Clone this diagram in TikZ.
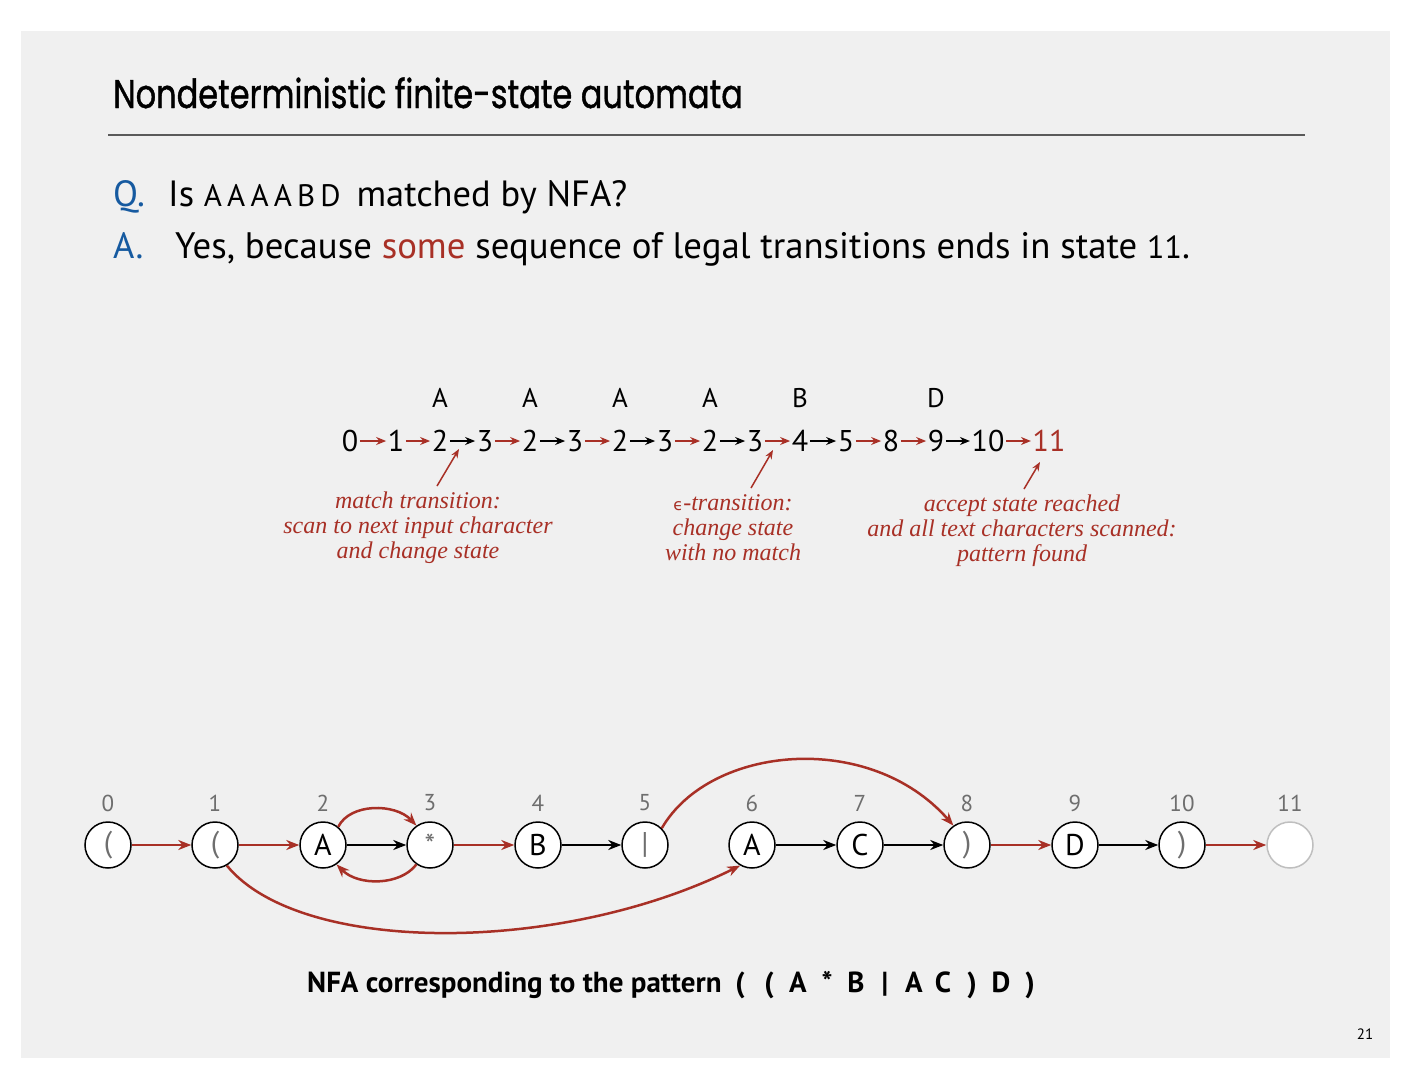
\documentclass[tikz,border=0pt]{standalone}
\usepackage{fontspec}
\setmainfont{PT Sans}
\newfontfamily\titlefont{Poppins}[FakeBold=1.2]
\newfontfamily\itfont{Liberation Serif}
\usetikzlibrary{arrows.meta}
\definecolor{bg}{RGB}{240,240,240}
\definecolor{myred}{RGB}{168,48,38}
\definecolor{myblue}{RGB}{22,90,160}
\definecolor{mygray}{RGB}{110,110,110}
\definecolor{rulegray}{RGB}{90,90,90}
\newcommand{\pc}[1]{\makebox[29pt]{#1}}
\begin{document}
\begin{tikzpicture}[x=1pt,y=-1pt,
  seqnum/.style={inner sep=1.5pt,font=\fontsize{30}{30}\selectfont},
  seqlet/.style={inner sep=0pt,font=\fontsize{27}{27}\selectfont},
  seqr/.style={draw=myred,line width=2pt,-{Stealth[length=10pt,width=8pt]}},
  seqb/.style={draw=black,line width=2pt,-{Stealth[length=10pt,width=8pt]}},
  ann/.style={text=myred,align=center,font=\itfont\itshape\fontsize{24}{25}\selectfont},
  pointer/.style={draw=myred,line width=1.5pt,-{Stealth[length=9pt,width=7pt]}},
  state/.style={circle,draw=black,line width=1.5pt,fill=white,minimum size=46pt,inner sep=0pt,font=\fontsize{30}{30}\selectfont},
  stlabel/.style={text=mygray,font=\fontsize{23}{23}\selectfont},
  nr/.style={draw=myred,line width=2.5pt,-{Stealth[length=13pt,width=10pt]}},
  nb/.style={draw=black,line width=2.5pt,-{Stealth[length=13pt,width=10pt]}}
]
\useasboundingbox (0,0) rectangle (1411,1090);
\fill[white] (0,0) rectangle (1411,1090);
\fill[bg] (21,31) rectangle (1390,1058);

% title
\node[anchor=base west,inner sep=0pt] (title) at (113,108) {\titlefont\fontsize{40}{40}\selectfont\scalebox{0.8}[1]{Nondeterministic finite-state automata}};
\coordinate (r1) at (108,135);
\coordinate (r2) at (1305,135);
\draw[rulegray,line width=2pt] (r1) -- (r2);

% Q and A
\node[anchor=base west,inner sep=0pt,text=myblue,font=\fontsize{36.5}{36.5}\selectfont] (q) at (113,206) {Q.};
\node[anchor=base west,inner sep=0pt,font=\fontsize{36.5}{36.5}\selectfont] (qt) at (168,206) {Is {\fontsize{31}{31}\selectfont A\,A\,A\,A\,B\,D} \,matched by NFA?};
\node[anchor=base west,inner sep=0pt,text=myblue,font=\fontsize{36.5}{36.5}\selectfont] (a) at (113,258) {A.};
\node[anchor=base west,inner sep=0pt,font=\fontsize{36.8}{36.8}\selectfont] (at) at (175,258) {Yes, because \textcolor{myred}{some} sequence of legal transitions ends in state {\fontsize{32}{32}\selectfont 11}.};

% sequence
\node[seqnum] (s0) at (350,441) {0};
\node[seqnum] (s1) at (396,441) {1};
\node[seqnum] (s2) at (440,441) {2};
\node[seqnum] (s3) at (485,441) {3};
\node[seqnum] (s4) at (530,441) {2};
\node[seqnum] (s5) at (575,441) {3};
\node[seqnum] (s6) at (620,441) {2};
\node[seqnum] (s7) at (665,441) {3};
\node[seqnum] (s8) at (710,441) {2};
\node[seqnum] (s9) at (755,441) {3};
\node[seqnum] (s10) at (800,441) {4};
\node[seqnum] (s11) at (846,441) {5};
\node[seqnum] (s12) at (891,441) {8};
\node[seqnum] (s13) at (936,441) {9};
\node[seqnum] (s14) at (988,441) {10};
\node[seqnum,text=myred] (s15) at (1049,441) {11};

\node[seqlet] (l1) at (440,398) {A};
\node[seqlet] (l2) at (530,398) {A};
\node[seqlet] (l3) at (620,398) {A};
\node[seqlet] (l4) at (710,398) {A};
\node[seqlet] (l5) at (800,398) {B};
\node[seqlet] (l6) at (936,398) {D};

\draw[seqr] (s0) -- (s1);
\draw[seqr] (s1) -- (s2);
\draw[seqb] (s2) -- (s3);
\draw[seqr] (s3) -- (s4);
\draw[seqb] (s4) -- (s5);
\draw[seqr] (s5) -- (s6);
\draw[seqb] (s6) -- (s7);
\draw[seqr] (s7) -- (s8);
\draw[seqb] (s8) -- (s9);
\draw[seqr] (s9) -- (s10);
\draw[seqb] (s10) -- (s11);
\draw[seqr] (s11) -- (s12);
\draw[seqr] (s12) -- (s13);
\draw[seqb] (s13) -- (s14);
\draw[seqr] (s14) -- (s15);

% annotations
\coordinate (p1a) at (437,486);
\coordinate (p1b) at (459,449);
\coordinate (p2a) at (751,488);
\coordinate (p2b) at (773,450);
\coordinate (p3a) at (1024,489);
\coordinate (p3b) at (1040,462);
\draw[pointer] (p1a) -- (p1b);
\draw[pointer] (p2a) -- (p2b);
\draw[pointer] (p3a) -- (p3b);

\node[ann,anchor=north] (ann1) at (418,488) {match transition:\\scan to next input character\\and change state};
\node[ann,anchor=north] (ann2) at (733,491) {\textup{\fontspec{DejaVu Sans}\fontsize{16}{16}\selectfont ϵ}-transition:\\change state\\with no match};
\node[ann,anchor=north] (ann3) at (1022,491) {accept state reached\\and all text characters scanned:\\pattern found};

% NFA
\node[state] (n0) at (108,845) {\textcolor{mygray}{(}};
\node[state] (n1) at (215,845) {\textcolor{mygray}{(}};
\node[state] (n2) at (323,845) {A};
\node[state] (n3) at (430,845) {\textcolor{mygray}{*}};
\node[state] (n4) at (538,845) {B};
\node[state] (n5) at (645,845) {\textcolor{mygray}{|}};
\node[state] (n6) at (752,845) {A};
\node[state] (n7) at (860,845) {C};
\node[state] (n8) at (967,845) {\textcolor{mygray}{)}};
\node[state] (n9) at (1075,845) {D};
\node[state] (n10) at (1182,845) {\textcolor{mygray}{)}};
\node[state,draw=black!25] (n11) at (1290,845) {};

\foreach \i/\xx in {0/108,1/215,2/323,3/430,4/538,5/645,6/752,7/860,8/967,9/1075,10/1182,11/1290}
  \node[stlabel] (lab\i) at (\xx,803) {\i};

\draw[nr] (n0) -- (n1);
\draw[nr] (n1) -- (n2);
\draw[nb] (n2) -- (n3);
\draw[nr] (n3) -- (n4);
\draw[nb] (n4) -- (n5);
\draw[nb] (n6) -- (n7);
\draw[nb] (n7) -- (n8);
\draw[nr] (n8) -- (n9);
\draw[nb] (n9) -- (n10);
\draw[nr] (n10) -- (n11);

\draw[nr] (n2.50) .. controls (350,803) and (395,803) .. (n3.125);
\draw[nr] (n3.235) .. controls (400,886) and (358,886) .. (n2.305);
\draw[nr] (n5.45) .. controls (710,745) and (870,730) .. (n8.125);
\draw[nr] (n1.300) .. controls (300,955) and (560,955) .. (n6.240);

% caption
\node[anchor=base west,font=\bfseries\fontsize{29}{29}\selectfont,inner sep=0pt] (cap) at (307,992) {NFA corresponding to the pattern\hspace{4pt}\pc{(}\pc{(}\pc{A}\pc{*}\pc{B}\pc{|}\pc{A}\pc{C}\pc{)}\pc{D}\pc{)}};

\node[font=\fontsize{15}{15}\selectfont,inner sep=0pt] (pg) at (1365,1034) {21};
\end{tikzpicture}
\end{document}
